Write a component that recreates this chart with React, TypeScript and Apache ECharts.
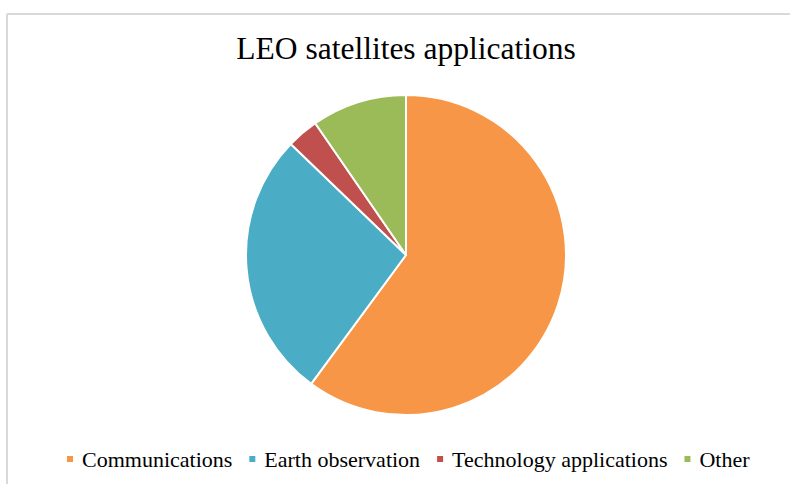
import React, { useEffect, useRef } from "react";
import * as echarts from "echarts";

// Share of LEO satellites by application (percent)
const categories = ["Communications", "Earth observation", "Technology applications", "Other"];
const shares = [60.1, 27.1, 3.2, 9.6];
const colors = ["#F79646", "#4BACC6", "#C0504D", "#9BBB59"];

const FONT = "'Liberation Serif', 'Times New Roman', serif";

export default function App() {
  const ref = useRef<HTMLDivElement>(null);

  useEffect(() => {
    if (!ref.current) return;
    const chart = echarts.init(ref.current, undefined, { renderer: "svg" });
    chart.setOption({
      animation: false,
      backgroundColor: "#ffffff",
      color: colors,
      title: {
        text: "LEO satellites applications",
        left: 401,
        top: 27,
        textAlign: "center",
        textStyle: { fontFamily: FONT, fontSize: 31.5, fontWeight: "normal", color: "#000000" },
      },
      legend: {
        data: categories,
        left: 60,
        top: 443,
        icon: "rect",
        itemWidth: 8,
        itemHeight: 8,
        itemGap: 15,
        selectedMode: false,
        textStyle: { fontFamily: FONT, fontSize: 22, color: "#000000", padding: [0, 0, 0, 3] },
      },
      graphic: [
        // chart frame: only its top and left edges fall inside the view
        {
          type: "line",
          shape: { x1: 7, y1: 14, x2: 790, y2: 14 },
          style: { stroke: "#d9d9d9", lineWidth: 2 },
          silent: true,
        },
        {
          type: "line",
          shape: { x1: 7, y1: 14, x2: 7, y2: 484 },
          style: { stroke: "#d9d9d9", lineWidth: 2 },
          silent: true,
        },
      ],
      series: [
        {
          type: "pie",
          center: [406, 255],
          radius: 160,
          startAngle: 90,
          clockwise: true,
          label: { show: false },
          labelLine: { show: false },
          emphasis: { disabled: true },
          itemStyle: { borderColor: "#ffffff", borderWidth: 2 },
          data: categories.map((name, i) => ({ name, value: shares[i] })),
        },
      ],
    });
    return () => chart.dispose();
  }, []);

  return (
    <div
      ref={ref}
      style={{ position: "fixed", left: 0, top: 0, width: 790, height: 484 }}
    />
  );
}
